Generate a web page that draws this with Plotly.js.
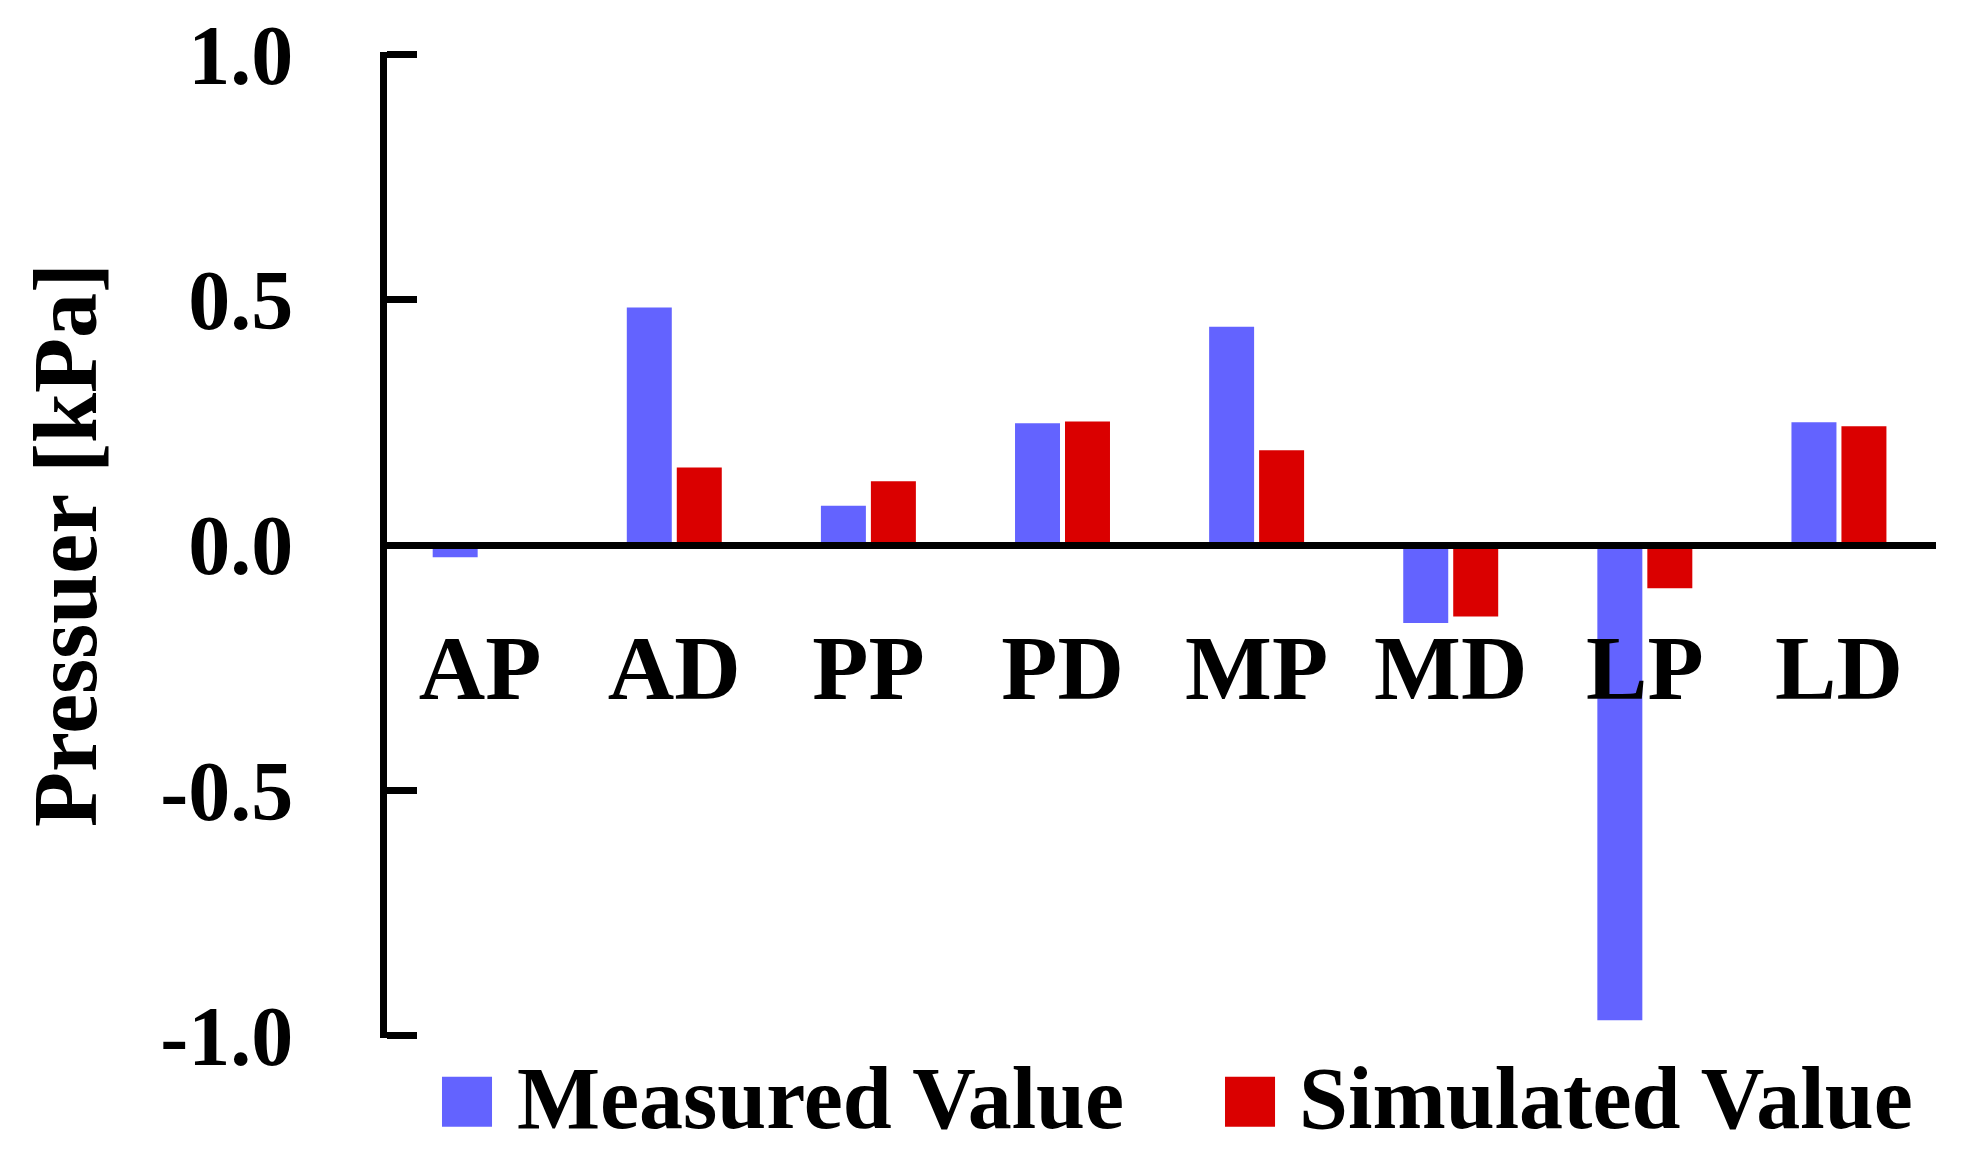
<!DOCTYPE html>
<html>
<head>
<meta charset="utf-8">
<script src="https://cdn.plot.ly/plotly-3.0.1.min.js"></script>
<style>html,body{margin:0;padding:0;background:#fff;}#chart{width:1961px;height:1163px;}</style>
</head>
<body>
<div id="chart"></div>
<script>
const categories = ["AP", "AD", "PP", "PD", "MP", "MD", "LP", "LD"];
const measuredValues = [-0.025, 0.484, 0.080, 0.248, 0.445, -0.159, -0.969, 0.250];
const simulatedValues = [-0.007, 0.158, 0.130, 0.252, 0.193, -0.146, -0.088, 0.242];
const seriesNames = ["Measured Value", "Simulated Value"];
const seriesColors = ["#6363FF", "#DA0000"];
const yTickValues = [1.0, 0.5, 0.0, -0.5, -1.0];
const yTickLabels = ["1.0", "0.5", "0.0", "-0.5", "-1.0"];
const yTitle = "Pressuer [kPa]";

const FONT = "Liberation Serif, Times New Roman, serif";

const traces = [
  {type: "bar", x: categories, y: measuredValues, name: seriesNames[0],
   marker: {color: seriesColors[0], line: {width: 0}}, showlegend: false, hoverinfo: "x+y"},
  {type: "bar", x: categories, y: simulatedValues, name: seriesNames[1],
   marker: {color: seriesColors[1], line: {width: 0}}, showlegend: false, hoverinfo: "x+y"}
];

// manual legend with large swatches (paper coords relative to plot area)
const legendItems = [
  {x0: 0.0355, x1: 0.0678, tx: 0.0826},
  {x0: 0.5410, x1: 0.5733, tx: 0.5875}
];
const shapes = legendItems.map((it, i) => ({
  type: "rect", xref: "paper", yref: "paper",
  x0: it.x0, x1: it.x1, y0: -0.0900, y1: -0.0392,
  fillcolor: seriesColors[i], line: {width: 0}
}));
const annotations = legendItems.map((it, i) => ({
  xref: "paper", yref: "paper", x: it.tx, y: -0.061,
  xanchor: "left", yanchor: "middle", showarrow: false,
  text: "<b>" + seriesNames[i] + "</b>",
  font: {family: FONT, size: 88, color: "#000"}
}));

const layout = {
  width: 1961, height: 1163,
  margin: {l: 387, r: 25, t: 52, b: 125},
  paper_bgcolor: "#fff", plot_bgcolor: "#fff",
  barmode: "group", bargap: 0.485, bargroupgap: 0.1,
  showlegend: false,
  font: {family: FONT, color: "#000"},
  xaxis: {
    type: "category",
    range: [-0.48, 7.5],
    anchor: "free", position: 0.5,
    showline: true, linecolor: "#000", linewidth: 7,
    ticks: "", showgrid: false, zeroline: false,
    ticklabelstandoff: 40,
    tickfont: {family: FONT, size: 92, color: "#000", weight: "bold"},
    fixedrange: true
  },
  yaxis: {
    range: [-1.005, 1.005],
    tickmode: "array", tickvals: yTickValues, ticktext: yTickLabels,
    showline: true, linecolor: "#000", linewidth: 7,
    ticks: "inside", ticklen: 30, tickwidth: 7, tickcolor: "#000",
    showgrid: false, zeroline: false,
    ticklabelstandoff: 70,
    tickfont: {family: FONT, size: 84, color: "#000", weight: "bold"},
    title: {text: yTitle, standoff: 36, font: {family: FONT, size: 90, color: "#000", weight: "bold"}},
    fixedrange: true
  },
  shapes: shapes,
  annotations: annotations
};

Plotly.newPlot("chart", traces, layout, {displayModeBar: false, staticPlot: true});
</script>
</body>
</html>
